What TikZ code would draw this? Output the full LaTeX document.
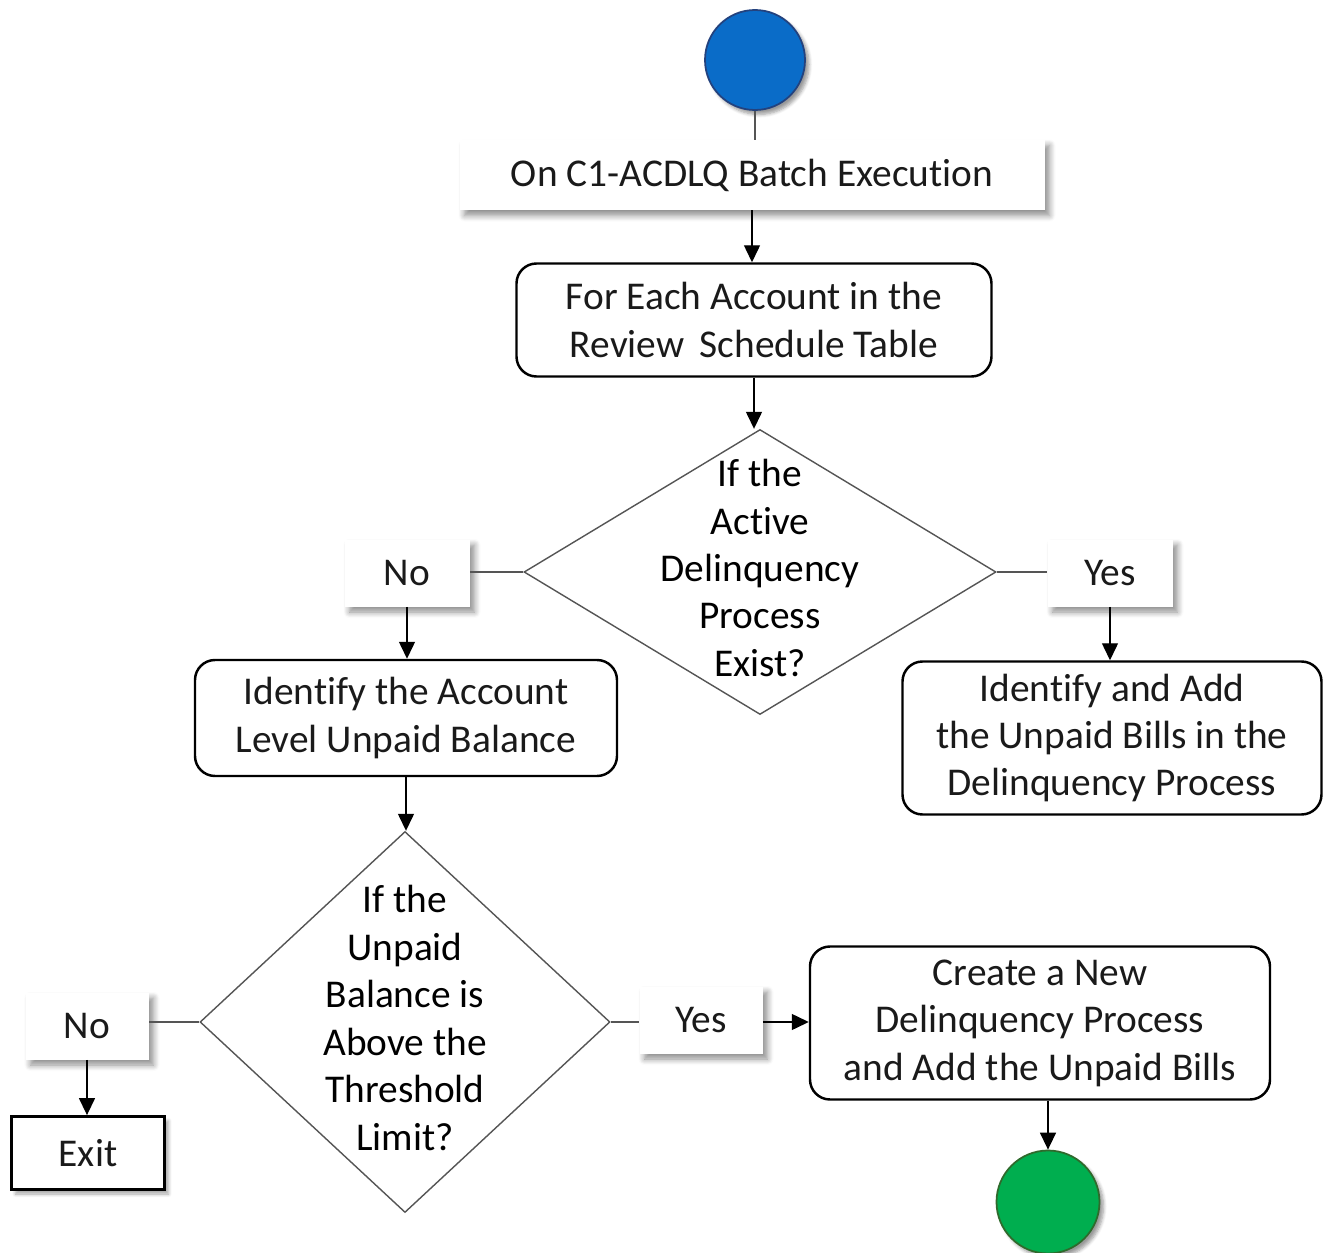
\documentclass[tikz,border=0pt]{standalone}
\usepackage{fontspec}
\setmainfont[Ligatures=NoCommon]{Carlito}
\usetikzlibrary{arrows.meta,positioning,shapes.geometric,shadows.blur}
\definecolor{sblue}{HTML}{0A6CC8}
\definecolor{sbluedk}{HTML}{23427E}
\definecolor{egreen}{HTML}{00AE4F}
\definecolor{egreendk}{HTML}{2F6A2C}
\definecolor{ink}{HTML}{1A1A1A}
\definecolor{edge}{HTML}{555555}

\begin{document}
\begin{tikzpicture}[font=\fontsize{22.4}{27}\selectfont, >={Triangle[length=3.4mm,width=3.2mm]},
  lbl/.style={rectangle, fill=white, align=center, text=ink, inner sep=0pt,
    blur shadow={shadow xshift=1.0mm, shadow yshift=-1.1mm, shadow blur radius=1.2mm,
      shadow blur steps=8, shadow opacity=45}},
  act/.style={rectangle, rounded corners=0.4cm, draw=black, line width=1.4pt, fill=white,
    align=center, text=ink, inner sep=0pt},
  decide/.style={diamond, draw=edge, line width=0.8pt, fill=white, inner sep=0pt},
  dot/.style={circle, inner sep=0pt, line width=1pt,
    blur shadow={shadow xshift=0.8mm, shadow yshift=-0.9mm, shadow blur steps=6, shadow opacity=40}},
  flow/.style={->, line width=0.8pt, draw=black},
  tie/.style={line width=0.8pt, draw=edge}]
\useasboundingbox (0,0) rectangle (26.6,-25.06);

% ---------------- main column
\node[dot, fill=sblue, draw=sbluedk, minimum size=2.0cm] (start) at (15.10,-1.20) {};
\node[lbl, minimum width=11.7cm, minimum height=1.4cm] (batch) at (15.04,-3.50)
  {On C1-ACDLQ Batch Execution};
\node[act, minimum width=9.5cm, minimum height=2.26cm] (each) at (15.08,-6.40)
  {For Each Account in the\\Review\, Schedule Table};
\node[decide, minimum width=9.44cm, minimum height=5.70cm,
      label={center:{\begin{tabular}{@{}c@{}}If the\\Active\\Delinquency\\Process\\Exist?\end{tabular}}}]
  (active) at (15.20,-11.44) {};
\draw[tie] (start.south) -- (start.south |- batch.north);
\draw[flow] (batch.south) -- (batch.south |- each.north);
\draw[flow] (each.south) -- (each.south |- active.north);

% ---------------- yes branch of the first check
\node[lbl, minimum width=2.5cm, minimum height=1.34cm] (yesA) at (22.20,-11.46) {Yes};
\node[act, minimum width=8.38cm, minimum height=3.06cm] (addbills) at (22.24,-14.76)
  {Identify and Add\\the Unpaid Bills in the\\Delinquency Process};
\draw[tie] (active.east) -- (active.east -| yesA.west);
\draw[flow] (yesA.south) -- (yesA.south |- addbills.north);

% ---------------- no branch of the first check
\node[lbl, minimum width=2.5cm, minimum height=1.34cm] (noA) at (8.14,-11.46) {No};
\node[act, minimum width=8.44cm, minimum height=2.32cm] (balance) at (8.12,-14.36)
  {Identify the Account\\Level Unpaid Balance};
\node[decide, minimum width=8.2cm, minimum height=7.62cm,
      label={center:{\begin{tabular}{@{}c@{}}If the\\Unpaid\\Balance is\\Above the\\Threshold\\Limit?\end{tabular}}}]
  (limit) at (8.10,-20.44) {};
\draw[tie] (active.west) -- (active.west -| noA.east);
\draw[flow] (noA.south) -- (noA.south |- balance.north);
\draw[flow] (balance.south) -- (balance.south |- limit.north);

% ---------------- outcomes of the threshold check
\node[lbl, minimum width=2.46cm, minimum height=1.34cm] (noB) at (1.74,-20.52) {No};
\node[act, rounded corners=0pt, line width=1.6pt, minimum width=3.06cm, minimum height=1.46cm,
      blur shadow={shadow xshift=0.8mm, shadow yshift=-0.9mm, shadow blur steps=6, shadow opacity=35}]
  (exit) at (1.76,-23.06) {Exit};
\node[lbl, minimum width=2.46cm, minimum height=1.34cm] (yesB) at (14.02,-20.40) {Yes};
\node[act, minimum width=9.2cm, minimum height=3.06cm] (create) at (20.80,-20.46)
  {Create a New\\Delinquency Process\\and Add the Unpaid Bills};
\node[dot, fill=egreen, draw=egreendk, minimum size=2.06cm] (finish) at (20.96,-24.04) {};
\draw[tie] (limit.west) -- (limit.west -| noB.east);
\draw[flow] (noB.south) -- (noB.south |- exit.north);
\draw[tie] (limit.east) -- (limit.east -| yesB.west);
\draw[flow] (yesB.east |- limit.east) -- (create.west |- limit.east);
\draw[flow] (create.south -| finish.north) -- (finish.north);
\end{tikzpicture}
\end{document}
